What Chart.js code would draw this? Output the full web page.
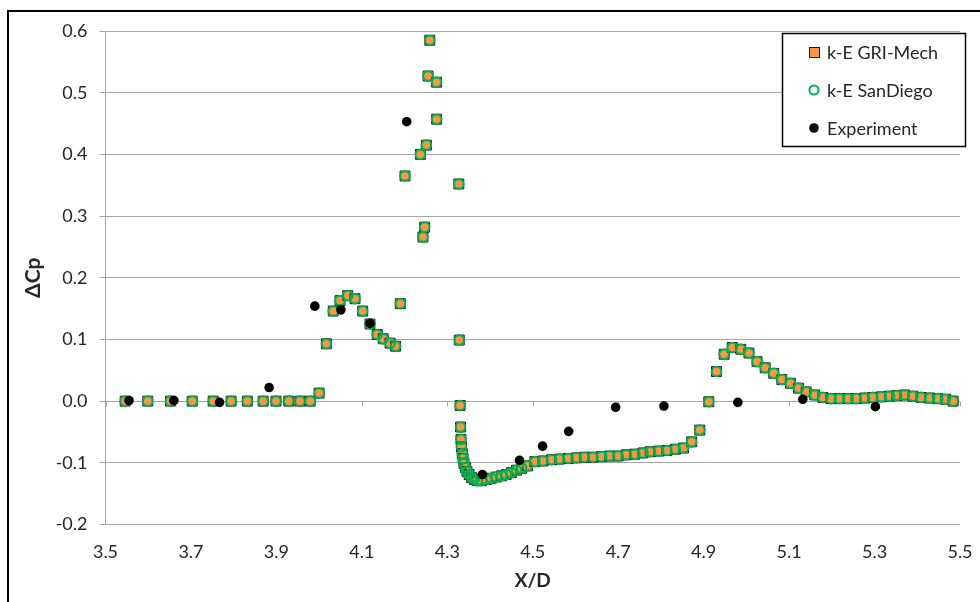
<!DOCTYPE html>
<html>
<head>
<meta charset="utf-8">
<title>Delta Cp along X/D</title>
<script src="https://cdn.jsdelivr.net/npm/chart.js@4.4.1/dist/chart.umd.min.js"></script>
<style>
  html, body { margin: 0; padding: 0; background: #fff; }
  canvas { display: block; }
</style>
</head>
<body>
<canvas id="cpChart" width="980" height="602"></canvas>
<script>
// simulated stations (X/D), shared by both k-E runs
const simX = [
  3.546, 3.599, 3.652, 3.703, 3.752, 3.794, 3.832, 3.869, 3.899, 3.929, 3.955, 3.979,
  4.000, 4.017, 4.033, 4.049, 4.067, 4.084, 4.102, 4.119, 4.136, 4.150, 4.166, 4.179,
  4.190, 4.201, 4.237, 4.243, 4.247, 4.251, 4.255, 4.259, 4.275, 4.275, 4.327, 4.328,
  4.330, 4.331, 4.332, 4.333, 4.335, 4.337, 4.339, 4.343, 4.346, 4.351, 4.357, 4.363,
  4.370, 4.380, 4.392, 4.403, 4.415, 4.427, 4.438, 4.450, 4.462, 4.474, 4.488, 4.505,
  4.524, 4.544, 4.563, 4.583, 4.602, 4.621, 4.641, 4.661, 4.680, 4.700, 4.719, 4.739,
  4.758, 4.775, 4.795, 4.814, 4.834, 4.853, 4.872, 4.891, 4.912, 4.930, 4.948, 4.967,
  4.987, 5.006, 5.025, 5.044, 5.064, 5.083, 5.103, 5.122, 5.140, 5.160, 5.179, 5.198,
  5.218, 5.238, 5.257, 5.277, 5.296, 5.316, 5.335, 5.352, 5.370, 5.390, 5.409, 5.429,
  5.448, 5.466, 5.484
];

const griMechDCp = [
  0, 0, 0, 0, 0, 0, 0, 0, 0, 0, 0, 0,
  0.013, 0.093, 0.146, 0.163, 0.171, 0.166, 0.146, 0.125, 0.108, 0.101, 0.094, 0.089,
  0.158, 0.365, 0.400, 0.266, 0.282, 0.415, 0.527, 0.585, 0.517, 0.457, 0.352, 0.099,
  -0.007, -0.042, -0.062, -0.074, -0.085, -0.093, -0.101, -0.108, -0.114, -0.119, -0.124, -0.127,
  -0.129, -0.129, -0.127, -0.125, -0.123, -0.121, -0.119, -0.116, -0.112, -0.109, -0.105, -0.098,
  -0.097, -0.095, -0.094, -0.093, -0.092, -0.091, -0.091, -0.090, -0.089, -0.089, -0.087, -0.086,
  -0.084, -0.082, -0.081, -0.080, -0.078, -0.076, -0.066, -0.047, -0.001, 0.048, 0.076, 0.087,
  0.084, 0.078, 0.064, 0.054, 0.045, 0.035, 0.029, 0.021, 0.015, 0.010, 0.006, 0.004,
  0.004, 0.004, 0.004, 0.005, 0.006, 0.007, 0.008, 0.009, 0.010, 0.008, 0.006, 0.005,
  0.004, 0.003, 0.000
];

const sanDiegoDCp = [
  0, 0, 0, 0, 0, 0, 0, 0, 0, 0, 0, 0,
  0.013, 0.093, 0.146, 0.163, 0.171, 0.166, 0.146, 0.125, 0.108, 0.101, 0.094, 0.089,
  0.158, 0.365, 0.400, 0.266, 0.282, 0.415, 0.527, 0.585, 0.517, 0.457, 0.352, 0.099,
  -0.007, -0.042, -0.062, -0.074, -0.085, -0.093, -0.101, -0.108, -0.114, -0.119, -0.124, -0.127,
  -0.129, -0.129, -0.127, -0.125, -0.123, -0.121, -0.119, -0.116, -0.112, -0.109, -0.105, -0.098,
  -0.097, -0.095, -0.094, -0.093, -0.092, -0.091, -0.091, -0.090, -0.089, -0.089, -0.087, -0.086,
  -0.084, -0.082, -0.081, -0.080, -0.078, -0.076, -0.066, -0.047, -0.001, 0.048, 0.076, 0.087,
  0.084, 0.078, 0.064, 0.054, 0.045, 0.035, 0.029, 0.021, 0.015, 0.010, 0.006, 0.004,
  0.004, 0.004, 0.004, 0.005, 0.006, 0.007, 0.008, 0.009, 0.010, 0.008, 0.006, 0.005,
  0.004, 0.003, 0.000
];

// measured taps
const expX = [3.555, 3.660, 3.767, 3.883, 3.990, 4.051, 4.119, 4.205, 4.382,
              4.469, 4.523, 4.584, 4.694, 4.807, 4.980, 5.132, 5.302];
const expDCp = [0.001, 0.001, -0.002, 0.022, 0.154, 0.148, 0.126, 0.453, -0.119,
                -0.096, -0.073, -0.049, -0.010, -0.008, -0.002, 0.003, -0.009];

const xTicks = [3.5, 3.7, 3.9, 4.1, 4.3, 4.5, 4.7, 4.9, 5.1, 5.3, 5.5];
const yTicks = [-0.2, -0.1, 0.0, 0.1, 0.2, 0.3, 0.4, 0.5, 0.6];

const legendNames = ['k-E GRI-Mech', 'k-E SanDiego', 'Experiment'];

const FONT = 'Lato, "Open Sans", sans-serif';
const GRID = '#a6a6a6';
const TEXT = '#262626';

const pairs = (xs, ys) => xs.map((x, i) => ({ x: x, y: ys[i] }));

// white page + the frame that runs off the right/bottom edge
const framePlugin = {
  id: 'frame',
  beforeDraw(chart) {
    const ctx = chart.ctx;
    ctx.save();
    ctx.fillStyle = '#fff';
    ctx.fillRect(0, 0, chart.width, chart.height);
    ctx.strokeStyle = '#000';
    ctx.lineWidth = 2;
    ctx.strokeRect(8, 11, chart.width + 20, chart.height + 20);
    ctx.restore();
  }
};

// horizontal axis sits on ΔCp = 0 with short ticks hanging below
const zeroAxisPlugin = {
  id: 'zeroAxis',
  beforeDatasetsDraw(chart) {
    const { ctx, scales: { x, y } } = chart;
    const y0 = Math.round(y.getPixelForValue(0)) + 0.5;
    ctx.save();
    ctx.strokeStyle = GRID;
    ctx.lineWidth = 1;
    ctx.beginPath();
    ctx.moveTo(x.left, y0);
    ctx.lineTo(x.right, y0);
    xTicks.forEach(v => {
      const px = Math.round(x.getPixelForValue(v)) + 0.5;
      ctx.moveTo(px, y0);
      ctx.lineTo(px, y0 + 5);
    });
    ctx.stroke();
    ctx.restore();
  }
};

// boxed legend in the upper right corner of the plot
const boxLegendPlugin = {
  id: 'boxLegend',
  afterDraw(chart) {
    const ctx = chart.ctx;
    const bx = 782, by = 33, bw = 183, bh = 113;
    ctx.save();
    ctx.fillStyle = '#fff';
    ctx.fillRect(bx, by, bw, bh);
    ctx.strokeStyle = '#000';
    ctx.lineWidth = 1.5;
    ctx.strokeRect(bx + 0.5, by + 0.5, bw, bh);

    const rows = [52, 90, 128];
    const mx = 814;
    // square
    ctx.fillStyle = '#f79646';
    ctx.fillRect(mx - 5, rows[0] - 5, 10, 10);
    ctx.strokeStyle = '#1a1a1a';
    ctx.lineWidth = 1;
    ctx.strokeRect(mx - 5 + 0.5, rows[0] - 5 + 0.5, 10, 10);
    // hollow circle
    ctx.beginPath();
    ctx.arc(mx, rows[1], 4.6, 0, Math.PI * 2);
    ctx.strokeStyle = '#00b050';
    ctx.lineWidth = 2;
    ctx.stroke();
    // dot
    ctx.beginPath();
    ctx.arc(mx, rows[2], 4.8, 0, Math.PI * 2);
    ctx.fillStyle = '#000';
    ctx.fill();

    ctx.fillStyle = TEXT;
    ctx.font = '18px ' + FONT;
    ctx.textBaseline = 'middle';
    ctx.textAlign = 'left';
    legendNames.forEach((t, i) => ctx.fillText(t, 827, rows[i] + 1));
    ctx.restore();
  }
};

new Chart(document.getElementById('cpChart'), {
  type: 'scatter',
  data: {
    datasets: [
      {
        label: legendNames[2],
        data: pairs(expX, expDCp),
        pointStyle: 'circle',
        pointRadius: 4.8,
        pointBackgroundColor: '#000',
        pointBorderWidth: 0
      },
      {
        label: legendNames[1],
        data: pairs(simX, sanDiegoDCp),
        pointStyle: 'circle',
        pointRadius: 4.8,
        pointBackgroundColor: 'rgba(0,0,0,0)',
        pointBorderColor: '#00b050',
        pointBorderWidth: 2
      },
      {
        label: legendNames[0],
        data: pairs(simX, griMechDCp),
        pointStyle: 'rect',
        pointRadius: 7,
        pointBackgroundColor: '#f79646',
        pointBorderColor: '#1a1a1a',
        pointBorderWidth: 1
      }
    ]
  },
  options: {
    responsive: false,
    animation: false,
    devicePixelRatio: 1,
    layout: { padding: { left: 0, right: 20, top: 31, bottom: 0 } },
    plugins: {
      legend: { display: false },
      tooltip: { enabled: false }
    },
    scales: {
      x: {
        type: 'linear',
        min: 3.5,
        max: 5.5,
        afterBuildTicks: s => { s.ticks = xTicks.map(v => ({ value: v })); },
        afterFit: s => { s.height = 77.5; s.paddingLeft = 0; s.paddingRight = 0; },
        grid: { display: false },
        border: { display: false },
        ticks: {
          padding: 9,
          color: TEXT,
          font: { family: FONT, size: 18 },
          callback: v => v.toFixed(1),
          maxRotation: 0
        },
        title: {
          display: true,
          text: 'X/D',
          color: TEXT,
          font: { family: FONT, size: 19, weight: 'bold' },
          padding: { top: 0, bottom: 10 }
        }
      },
      y: {
        type: 'linear',
        min: -0.2,
        max: 0.6,
        afterBuildTicks: s => { s.ticks = yTicks.map(v => ({ value: v })); },
        afterFit: s => { s.width = 105.5; },
        grid: { color: GRID, lineWidth: 1, tickLength: 6, drawTicks: true },
        border: { display: true, color: GRID, width: 1 },
        ticks: {
          padding: 12,
          color: TEXT,
          font: { family: FONT, size: 18 },
          callback: v => v.toFixed(1)
        },
        title: {
          display: true,
          text: 'ΔCp',
          color: TEXT,
          font: { family: FONT, size: 21, weight: 'bold' },
          padding: { top: 21, bottom: 0 }
        }
      }
    }
  },
  plugins: [framePlugin, zeroAxisPlugin, boxLegendPlugin]
});
</script>
</body>
</html>
